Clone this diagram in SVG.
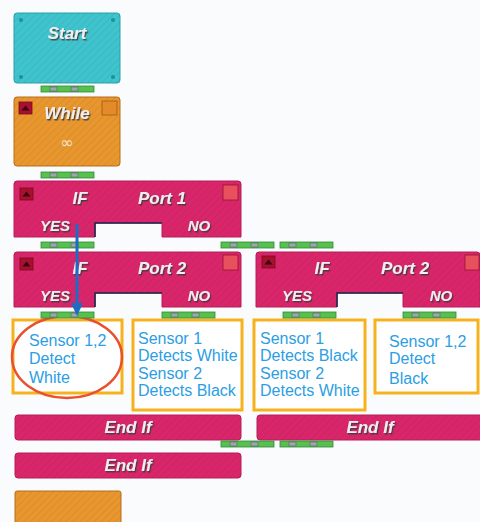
<svg xmlns="http://www.w3.org/2000/svg" width="480" height="522" viewBox="0 0 480 522">
<style>
.lbl{font-family:"Liberation Sans",Arial,sans-serif;font-weight:bold;font-style:italic;font-size:17px;fill:#f2eef0;filter:url(#sh)}
.yn{font-size:15px}
.sen{font-family:"Liberation Sans",Arial,sans-serif;font-size:16px;fill:#2b9ee4}
.mag{fill:#d9266b;stroke:#b81c58;stroke-width:1}
.box{fill:#fff;stroke:#f6b21c;stroke-width:3}
.notch{fill:none;stroke:#1d2a52;stroke-width:1.6}
.tri{fill:#a8102f;stroke:#7a0a20;stroke-width:0.8}
.sq{fill:#e8505e;stroke:#9a1030;stroke-width:0.8}
</style>
<defs>
<filter id="sh" x="-20%" y="-20%" width="140%" height="150%">
<feDropShadow dx="1.2" dy="1.5" stdDeviation="0.4" flood-color="#3a3a3a" flood-opacity="0.85"/>
</filter>
<pattern id="stripe" width="5" height="5" patternUnits="userSpaceOnUse" patternTransform="rotate(45)">
<rect width="5" height="5" fill="none"/>
<line x1="0" y1="0" x2="0" y2="5" stroke="#000" stroke-opacity="0.07" stroke-width="1.5"/>
</pattern>
<g id="conn">
<rect x="0" y="0" width="53" height="6" fill="#57c04f" stroke="#2f8a3a" stroke-width="0.8"/>
<rect x="9" y="1" width="7" height="4" fill="#9aa6b0" stroke="#555" stroke-width="0.5"/>
<rect x="30" y="1" width="7" height="4" fill="#9aa6b0" stroke="#555" stroke-width="0.5"/>
</g>
<g id="trib">
<rect x="0" y="0" width="13" height="12" class="tri"/>
<path d="M2.5,8.5 L6.5,3.5 L10.5,8.5 Z" fill="#3a0410"/>
</g>
</defs>
<rect width="480" height="522" fill="#fafbfd"/>

<g id="start">
<rect x="14" y="13" width="106" height="70" rx="3" fill="#3fc3cd" stroke="#2aa0ac"/>
<rect x="14" y="13" width="106" height="70" rx="3" fill="url(#stripe)"/>
<circle cx="21" cy="20" r="2" fill="#1f8f9a"/><circle cx="113" cy="20" r="2" fill="#1f8f9a"/>
<circle cx="21" cy="77" r="2" fill="#1f8f9a"/><circle cx="113" cy="77" r="2" fill="#1f8f9a"/>
<text x="67" y="39" text-anchor="middle" class="lbl">Start</text>
</g>

<g id="while">
<rect x="14" y="97" width="106" height="69" rx="3" fill="#e8962e" stroke="#b86e18"/>
<rect x="14" y="97" width="106" height="69" rx="3" fill="url(#stripe)"/>
<use href="#trib" x="19" y="102"/>
<rect x="102" y="101" width="15" height="14" fill="#e58a2a" stroke="#a05a10" stroke-width="0.8"/>
<text x="67" y="119" text-anchor="middle" class="lbl">While</text>
<text x="67" y="148" text-anchor="middle" font-family="DejaVu Sans,sans-serif" font-size="16" fill="#f6e2c6">∞</text>
</g>

<g id="if-port1">
<path d="M17,181 H238 Q241,181 241,184 V237 H162 V223 H95 V237 H14 V184 Q14,181 17,181 Z" class="mag"/>
<path d="M17,181 H238 Q241,181 241,184 V237 H162 V223 H95 V237 H14 V184 Q14,181 17,181 Z" fill="url(#stripe)"/>
<path d="M95,237 V223 H162" class="notch"/>
<use href="#trib" x="20" y="188"/>
<rect x="223" y="185" width="15" height="15" class="sq"/>
<text x="80" y="204" text-anchor="middle" class="lbl">IF</text>
<text x="162" y="204" text-anchor="middle" class="lbl">Port 1</text>
<text x="55" y="231" text-anchor="middle" class="lbl yn">YES</text>
<text x="199" y="231" text-anchor="middle" class="lbl yn">NO</text>
</g>

<g id="if-port2-left">
<path d="M17,252 H238 Q241,252 241,255 V307 H162 V293 H95 V307 H14 V255 Q14,252 17,252 Z" class="mag"/>
<path d="M17,252 H238 Q241,252 241,255 V307 H162 V293 H95 V307 H14 V255 Q14,252 17,252 Z" fill="url(#stripe)"/>
<path d="M95,307 V293 H162" class="notch"/>
<use href="#trib" x="20" y="258"/>
<rect x="223" y="255" width="15" height="15" class="sq"/>
<text x="80" y="274" text-anchor="middle" class="lbl">IF</text>
<text x="162" y="274" text-anchor="middle" class="lbl">Port 2</text>
<text x="55" y="301" text-anchor="middle" class="lbl yn">YES</text>
<text x="199" y="301" text-anchor="middle" class="lbl yn">NO</text>
</g>

<g id="if-port2-right">
<path d="M259,252 H477 Q480,252 480,255 V307 H403 V293 H337 V307 H256 V255 Q256,252 259,252 Z" class="mag"/>
<path d="M259,252 H477 Q480,252 480,255 V307 H403 V293 H337 V307 H256 V255 Q256,252 259,252 Z" fill="url(#stripe)"/>
<path d="M337,307 V293 H403" class="notch"/>
<use href="#trib" x="262" y="256"/>
<rect x="465" y="255" width="14" height="15" class="sq"/>
<text x="322" y="274" text-anchor="middle" class="lbl">IF</text>
<text x="405" y="274" text-anchor="middle" class="lbl">Port 2</text>
<text x="297" y="301" text-anchor="middle" class="lbl yn">YES</text>
<text x="441" y="301" text-anchor="middle" class="lbl yn">NO</text>
</g>

<g id="case1">
<rect x="13" y="320" width="109" height="73" class="box"/>
<text class="sen"><tspan x="29" y="346">Sensor 1,2</tspan><tspan x="29" y="364">Detect</tspan><tspan x="29" y="383">White</tspan></text>
<ellipse cx="67" cy="357" rx="55" ry="41" fill="none" stroke="#e8502e" stroke-width="2.5"/>
</g>

<g id="case2">
<rect x="133" y="320" width="109" height="90" class="box"/>
<text class="sen"><tspan x="138" y="344">Sensor 1</tspan><tspan x="138" y="361">Detects White</tspan><tspan x="138" y="379">Sensor 2</tspan><tspan x="138" y="396">Detects Black</tspan></text>
</g>

<g id="case3">
<rect x="254" y="320" width="111" height="90" class="box"/>
<text class="sen"><tspan x="260" y="344">Sensor 1</tspan><tspan x="260" y="361">Detects Black</tspan><tspan x="260" y="379">Sensor 2</tspan><tspan x="260" y="396">Detects White</tspan></text>
</g>

<g id="case4">
<rect x="375" y="320" width="103" height="73" class="box"/>
<text class="sen"><tspan x="389" y="347">Sensor 1,2</tspan><tspan x="389" y="364">Detect</tspan><tspan x="389" y="384">Black</tspan></text>
</g>

<g id="endif1">
<rect x="15" y="415" width="226" height="25" rx="3" class="mag"/>
<rect x="15" y="415" width="226" height="25" rx="3" fill="url(#stripe)"/>
<text x="128" y="433" text-anchor="middle" class="lbl">End If</text>
</g>

<g id="endif2">
<rect x="257" y="415" width="226" height="25" rx="3" class="mag"/>
<rect x="257" y="415" width="226" height="25" rx="3" fill="url(#stripe)"/>
<text x="370" y="433" text-anchor="middle" class="lbl">End If</text>
</g>

<g id="endif3">
<rect x="15" y="453" width="226" height="25" rx="3" class="mag"/>
<rect x="15" y="453" width="226" height="25" rx="3" fill="url(#stripe)"/>
<text x="128" y="471" text-anchor="middle" class="lbl">End If</text>
</g>

<g id="loop-end">
<rect x="15" y="491" width="106" height="35" rx="2" fill="#e8962e" stroke="#b86e18"/>
<rect x="15" y="491" width="106" height="35" rx="2" fill="url(#stripe)"/>
</g>

<g id="connectors">
<use href="#conn" x="41" y="86"/>
<use href="#conn" x="41" y="172"/>
<use href="#conn" x="41" y="242"/>
<use href="#conn" x="221" y="242"/>
<use href="#conn" x="280" y="242"/>
<use href="#conn" x="41" y="312"/>
<use href="#conn" x="162" y="312"/>
<use href="#conn" x="283" y="312"/>
<use href="#conn" x="403" y="312"/>
<use href="#conn" x="221" y="441"/>
<use href="#conn" x="280" y="441"/>
<g id="blue-arrow">
<line x1="77" y1="224" x2="77" y2="305" stroke="#1d6cc4" stroke-width="3"/>
<path d="M71,303 L83,303 L77,316 Z" fill="#1d6cc4"/>
</g>
</g>
</svg>
